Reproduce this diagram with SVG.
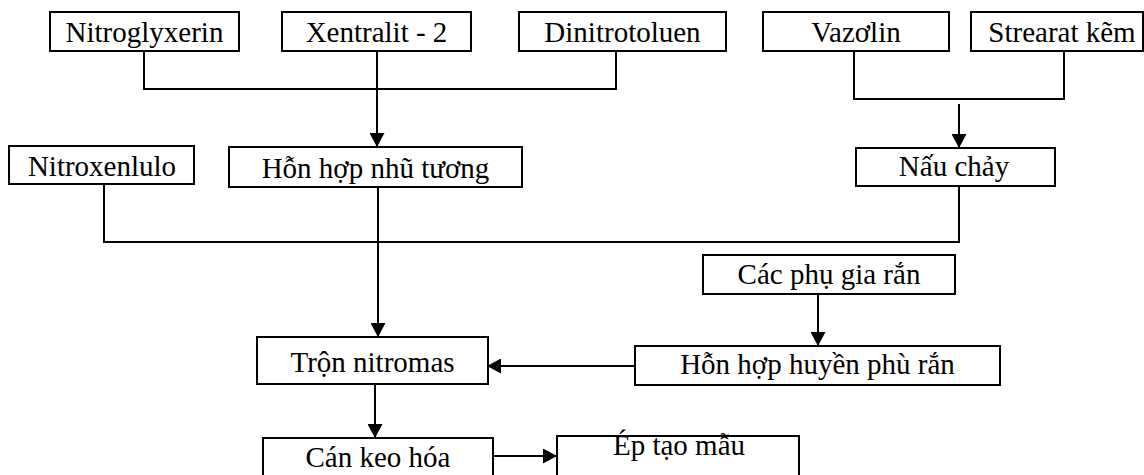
<svg xmlns="http://www.w3.org/2000/svg" width="1144" height="475" viewBox="0 0 1144 475">
<style>
.box{fill:#fff;stroke:#000;stroke-width:2}
.lbl{font-family:"Liberation Serif","Times New Roman",serif;font-size:29px;fill:#000;text-anchor:middle}
.ln{fill:none;stroke:#000;stroke-width:2}
</style>
<defs>
<marker id="arr" viewBox="0 0 14 15" refX="13" refY="7.5" markerWidth="14" markerHeight="15" markerUnits="userSpaceOnUse" orient="auto">
<path d="M0,0 L14,7.5 L0,15 z" fill="#000"/>
</marker>
</defs>
<rect width="1144" height="475" fill="#fff"/>
<g id="connectors">
<path class="ln" d="M144 51 V89 H616 V51"/>
<path class="ln" d="M377 51 V146" marker-end="url(#arr)"/>
<path class="ln" d="M854 51 V99 H1064 V51"/>
<path class="ln" d="M959 104 V147" marker-end="url(#arr)"/>
<path class="ln" d="M104 184 V242 H959 V186"/>
<path class="ln" d="M378 187 V336" marker-end="url(#arr)"/>
<path class="ln" d="M818 294 V345" marker-end="url(#arr)"/>
<path class="ln" d="M635 366 H488" marker-end="url(#arr)"/>
<path class="ln" d="M375 384 V437" marker-end="url(#arr)"/>
<path class="ln" d="M493 456 H556" marker-end="url(#arr)"/>
</g>
<g id="n-nitroglyxerin"><rect class="box" x="50" y="12" width="189" height="39"/><text class="lbl" x="144.5" y="41.5">Nitroglyxerin</text></g>
<g id="n-xentralit"><rect class="box" x="282" y="12" width="189" height="39"/><text class="lbl" x="376.5" y="41.5">Xentralit - 2</text></g>
<g id="n-dinitrotoluen"><rect class="box" x="519" y="12" width="207" height="39"/><text class="lbl" x="622.5" y="41.5">Dinitrotoluen</text></g>
<g id="n-vazolin"><rect class="box" x="763" y="12" width="186" height="39"/><text class="lbl" x="856" y="41.5">Vazơlin</text></g>
<g id="n-strearat"><rect class="box" x="971" y="12" width="172" height="39"/><text class="lbl" x="1062" y="41.5">Strearat kẽm</text></g>
<g id="n-nitroxenlulo"><rect class="box" x="9" y="146" width="185" height="38"/><text class="lbl" x="102" y="176">Nitroxenlulo</text></g>
<g id="n-nhutuong"><rect class="box" x="229" y="147" width="293" height="40"/><text class="lbl" x="375.5" y="178">Hỗn hợp nhũ tương</text></g>
<g id="n-nauchay"><rect class="box" x="856" y="148" width="199" height="38"/><text class="lbl" x="954" y="176">Nấu chảy</text></g>
<g id="n-phugia"><rect class="box" x="703" y="255" width="252" height="39"/><text class="lbl" x="829" y="283.5">Các phụ gia rắn</text></g>
<g id="n-tron"><rect class="box" x="257" y="337" width="231" height="47"/><text class="lbl" x="372.5" y="371.5">Trộn nitromas</text></g>
<g id="n-huyenphu"><rect class="box" x="635" y="346" width="365" height="39"/><text class="lbl" x="817.5" y="373.5">Hỗn hợp huyền phù rắn</text></g>
<g id="n-can"><rect class="box" x="263" y="438" width="230" height="42"/><text class="lbl" x="378" y="466.5">Cán keo hóa</text></g>
<g id="n-ep"><rect class="box" x="557" y="436" width="242" height="44"/><text class="lbl" x="679" y="455">Ép tạo mẫu</text></g>
</svg>
